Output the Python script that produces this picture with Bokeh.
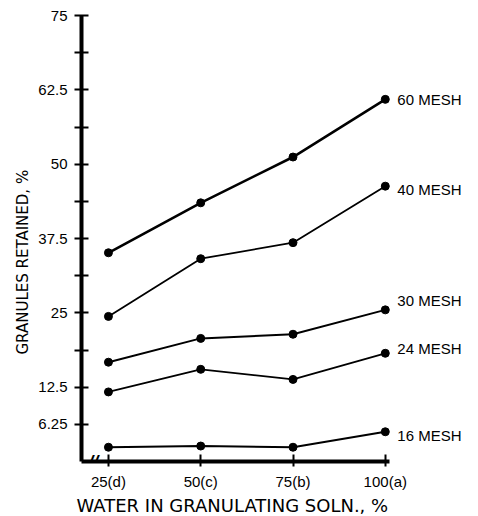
from bokeh.plotting import figure
from bokeh.models import FixedTicker, Range1d, Label, Title
from bokeh.embed import file_html
from bokeh.resources import INLINE

# ---- data ----
water = [25, 50, 75, 100]
mesh_60 = [35.1, 43.5, 51.2, 60.9]
mesh_40 = [24.4, 34.1, 36.8, 46.3]
mesh_30 = [16.7, 20.7, 21.4, 25.5]
mesh_24 = [11.7, 15.5, 13.8, 18.2]
mesh_16 = [2.4, 2.6, 2.4, 5.0]
series_names = ["60 MESH", "40 MESH", "30 MESH", "24 MESH", "16 MESH"]
x_tick_labels = {25: "25(d)", 50: "50(c)", 75: "75(b)", 100: "100(a)"}
y_ticks = [6.25, 12.5, 18.75, 25, 31.25, 37.5, 43.75, 50, 56.25, 62.5, 68.75, 75]
y_tick_labels = {6.25: "6.25", 12.5: "12.5", 25: "25", 37.5: "37.5",
                 50: "50", 62.5: "62.5", 75: "75"}
x_title = "WATER IN GRANULATING SOLN., %"
y_title = "GRANULES RETAINED, %"

series = [mesh_60, mesh_40, mesh_30, mesh_24, mesh_16]
line_widths = [2.6, 1.8, 2.0, 1.8, 2.0]
label_dy = [0, -3, 9, 5, -4]   # screen px, positive = up

FONT = "Liberation Sans"
TFONT = "DejaVu Sans"

X0, X1 = 17.7, 101.1
p = figure(frame_width=385, frame_height=446,
           x_range=Range1d(X0, 122), y_range=Range1d(0, 75),
           output_backend="svg", toolbar_location=None,
           min_border_left=81, min_border_top=15, min_border_right=0,
           min_border_bottom=0)
p.background_fill_color = "white"
p.border_fill_color = "white"
p.outline_line_color = None
p.xgrid.visible = False
p.ygrid.visible = False

for vals, lw in zip(series, line_widths):
    p.line(water, vals, line_color="black", line_width=lw)
    p.scatter(water, vals, size=8, fill_color="black", line_color="black")

for name, vals, dy in zip(series_names, series, label_dy):
    p.add_layout(Label(x=water[-1], y=vals[-1], text=name, x_offset=12,
                       y_offset=dy, text_baseline="middle",
                       text_font=FONT, text_font_size="15px",
                       text_color="black"))

# axis break mark
p.add_layout(Label(x=20.9, y=0, text="//", text_align="center",
                   text_baseline="middle", text_font=FONT,
                   text_font_size="18px", text_font_style="bold italic",
                   text_color="black"))

xa = p.xaxis[0]
xa.ticker = FixedTicker(ticks=water)
xa.major_label_overrides = x_tick_labels
xa.bounds = (X0, X1)
ya = p.yaxis[0]
ya.ticker = FixedTicker(ticks=y_ticks)
ya.major_label_overrides = {t: y_tick_labels.get(t, "") for t in y_ticks}

for ax in (xa, ya):
    ax.axis_line_width = 4
    ax.axis_line_color = "black"
    ax.major_tick_line_width = 2
    ax.major_tick_line_color = "black"
    ax.minor_tick_line_color = None
    ax.major_label_text_font = FONT
    ax.major_label_text_font_size = "15px"
    ax.major_label_text_color = "black"

ya.major_tick_in = 7
ya.major_tick_out = 7
ya.major_label_standoff = 7
xa.major_tick_in = 7
xa.major_tick_out = 5
xa.major_label_standoff = 6

p.add_layout(Title(text=x_title, align="left", offset=-5, standoff=0,
                   text_font=TFONT, text_font_size="18px",
                   text_font_style="normal", text_color="black"), "below")
p.add_layout(Title(text=y_title, align="left", offset=107, standoff=8,
                   text_font=TFONT, text_font_size="15px",
                   text_font_style="normal", text_color="black"), "left")

open("out.html", "w").write(file_html(p, INLINE))
